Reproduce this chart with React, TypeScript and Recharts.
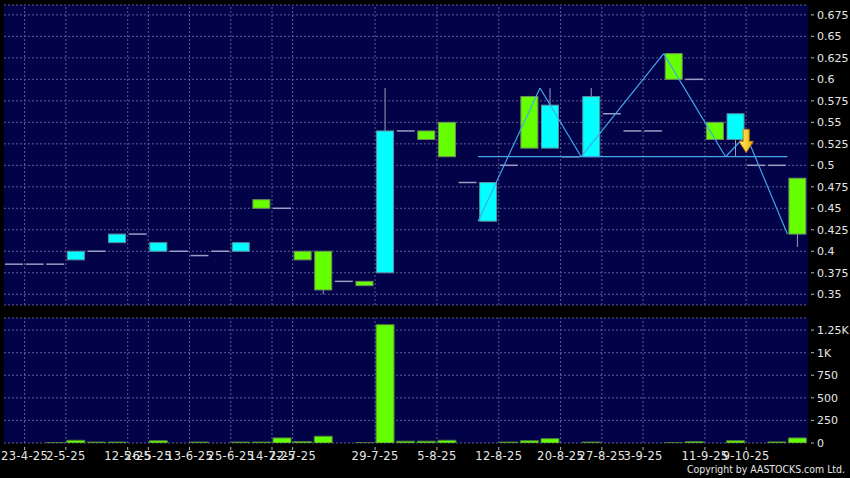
import React from "react";
import {
  Bar,
  CartesianGrid,
  ComposedChart,
  ReferenceDot,
  ReferenceLine,
  XAxis,
  YAxis,
} from "recharts";

// trading slots (one candle each)
const slots = [
  1, 2, 3, 4, 5, 6, 7, 8, 9, 10, 11, 12, 13, 14, 15, 16, 17, 18, 19, 20,
  21, 22, 23, 24, 25, 26, 27, 28, 29, 30, 31, 32, 33, 34, 35, 36, 37, 38, 39,
];

const opens = [
  0.385, 0.385, 0.385, 0.39, 0.4, 0.41, 0.42, 0.4, 0.4, 0.395, 0.4, 0.4, 0.46,
  0.45, 0.4, 0.4, 0.365, 0.365, 0.375, 0.54, 0.54, 0.55, 0.48, 0.435, 0.5,
  0.58, 0.52, 0.51, 0.51, 0.56, 0.54, 0.54, 0.63, 0.6, 0.55, 0.53, 0.5, 0.5,
  0.485,
];
const highs = [
  0.385, 0.385, 0.385, 0.4, 0.4, 0.42, 0.42, 0.41, 0.4, 0.395, 0.4, 0.41, 0.46,
  0.45, 0.4, 0.4, 0.365, 0.365, 0.59, 0.54, 0.54, 0.55, 0.48, 0.48, 0.5, 0.58,
  0.59, 0.51, 0.59, 0.56, 0.54, 0.54, 0.63, 0.6, 0.55, 0.56, 0.5, 0.5, 0.485,
];
const lows = [
  0.385, 0.385, 0.385, 0.39, 0.4, 0.41, 0.42, 0.4, 0.4, 0.395, 0.4, 0.4, 0.45,
  0.45, 0.39, 0.35, 0.365, 0.36, 0.375, 0.54, 0.53, 0.51, 0.48, 0.435, 0.5,
  0.52, 0.52, 0.51, 0.51, 0.56, 0.54, 0.54, 0.6, 0.6, 0.53, 0.51, 0.5, 0.5,
  0.405,
];
const closes = [
  0.385, 0.385, 0.385, 0.4, 0.4, 0.42, 0.42, 0.41, 0.4, 0.395, 0.4, 0.41, 0.45,
  0.45, 0.39, 0.355, 0.365, 0.36, 0.54, 0.54, 0.53, 0.51, 0.48, 0.48, 0.5,
  0.52, 0.57, 0.51, 0.58, 0.56, 0.54, 0.54, 0.6, 0.6, 0.53, 0.56, 0.5, 0.5,
  0.42,
];
const volumes = [
  0, 0, 4, 30, 10, 10, 0, 25, 0, 10, 0, 10, 10, 56, 15, 75, 0, 3, 1310, 20, 20,
  30, 0, 0, 10, 25, 48, 0, 10, 0, 0, 0, 3, 15, 0, 25, 0, 12, 56,
];

// date labels sit on the left edge of these slots
const tickSlots = [2, 4, 7, 8, 10, 12, 14, 15, 19, 22, 25, 28, 30, 32, 35, 37];
const tickLabels = [
  "23-4-25", "2-5-25", "12-5-25", "26-5-25", "13-6-25", "25-6-25", "14-7-25",
  "22-7-25", "29-7-25", "5-8-25", "12-8-25", "20-8-25", "27-8-25", "3-9-25",
  "11-9-25", "9-10-25",
];

const priceTicks = [
  0.35, 0.375, 0.4, 0.425, 0.45, 0.475, 0.5, 0.525, 0.55, 0.575, 0.6, 0.625,
  0.65, 0.675,
];
const volumeTicks = [0, 250, 500, 750, 1000, 1250];

// pattern overlay (zigzag + neckline), points on slot left edges
const zigSlots = [24, 27, 29, 33, 36, 37, 39];
const zigValues = [0.435, 0.59, 0.51, 0.63, 0.51, 0.535, 0.42];
const necklineSlots = [24, 39];
const necklineValue = 0.51;
const arrowSlot = 37;
const arrowValue = 0.515;

// layout
const W = 850;
const LEFT = 4;
const AXIS_W = 42;
const HALF = (W - LEFT - AXIS_W) / slots.length / 2;

const NAVY = "#020248";
const GRID = "#5c5c98";
const CYAN = "#00ffff";
const GREEN = "#66ff00";
const FLAT = "#9c9cc4";
const LINE = "#44a6ec";
const TEXT = "#e6e6e6";
const FONT = "'DejaVu Sans', sans-serif";

const rows = slots.map((slot, i) => ({
  slot,
  o: opens[i],
  h: highs[i],
  l: lows[i],
  c: closes[i],
  range: [lows[i], highs[i]],
  v: volumes[i],
}));

const Candle = (props: any) => {
  const { x = 0, y = 0, width = 0, height = 0, payload } = props;
  if (!payload) return <g />;
  const { o, h, l, c } = payload;
  const top = Math.min(y, y + height);
  const bot = Math.max(y, y + height);
  const span = h - l;
  const toY = (v: number) => (span > 0 ? top + ((h - v) / span) * (bot - top) : top);
  const cx = x + width / 2;
  if (o === c) {
    return (
      <g>
        {span > 0 && <line x1={cx} x2={cx} y1={top} y2={bot} stroke={FLAT} />}
        <line x1={x} x2={x + width} y1={toY(o)} y2={toY(o)} stroke={FLAT} strokeWidth={1.5} />
      </g>
    );
  }
  const up = c > o;
  const bTop = toY(Math.max(o, c));
  const bBot = toY(Math.min(o, c));
  return (
    <g>
      {span > 0 && <line x1={cx} x2={cx} y1={top} y2={bot} stroke={FLAT} />}
      <rect
        x={x + 0.5}
        y={bTop}
        width={width - 1}
        height={Math.max(1, bBot - bTop)}
        fill={up ? CYAN : GREEN}
        stroke={up ? "#5e8c9c" : "#6f8c5a"}
        strokeWidth={1}
      />
    </g>
  );
};

const Arrow = (props: any) => {
  const { cx = 0, cy = 0 } = props;
  const ax = cx - HALF;
  const d = `M${ax - 3},${cy - 23} L${ax + 3},${cy - 23} L${ax + 3},${cy - 11} L${ax + 7},${cy - 11} L${ax},${cy} L${ax - 7},${cy - 11} L${ax - 3},${cy - 11} Z`;
  return (
    <g>
      <defs>
        <linearGradient id="arrowFill" x1="0" x2="1" y1="0" y2="0">
          <stop offset="0%" stopColor="#fff07a" />
          <stop offset="100%" stopColor="#f0b000" />
        </linearGradient>
      </defs>
      <path d={d} fill="url(#arrowFill)" stroke="#c98a00" strokeWidth={1} />
    </g>
  );
};

const RightTick = (props: any) => {
  const { x, y, payload, fmt } = props;
  return (
    <g>
      <line x1={x + 3} x2={x + 6} y1={y} y2={y} stroke="#b8b8b8" />
      <text x={x + 9} y={y} dy="0.36em" fill={TEXT} fontSize={11} fontFamily={FONT}>
        {fmt(payload.value)}
      </text>
    </g>
  );
};

const DateTick = (props: any) => {
  const { x, y, payload } = props;
  const i = tickSlots.indexOf(payload.value);
  const tx = x - HALF;
  return (
    <g>
      <line x1={tx} x2={tx} y1={y + 4} y2={y + 7} stroke="#b8b8b8" />
      <text
        x={tx}
        y={y + 17}
        textAnchor="middle"
        fill={TEXT}
        fontSize={11.5}
        letterSpacing={0.3}
        fontFamily={FONT}
      >
        {tickLabels[i]}
      </text>
    </g>
  );
};

const fmtPrice = (v: number) => String(v);
const fmtVol = (v: number) => (v >= 1000 ? `${v / 1000}K` : String(v));

const vGrid = () =>
  tickSlots.map((s) => (
    <ReferenceLine key={`g${s}`} x={s} position="start" stroke={GRID} strokeDasharray="2 2" />
  ));

export default function App() {
  const zigSegments = zigSlots.slice(1).map((s, i) => (
    <ReferenceLine
      key={`z${i}`}
      position="start"
      segment={[
        { x: zigSlots[i], y: zigValues[i] },
        { x: s, y: zigValues[i + 1] },
      ]}
      stroke={LINE}
      strokeWidth={1.2}
    />
  ));

  return (
    <div
      style={{
        position: "fixed",
        left: 0,
        top: 0,
        width: W,
        height: 478,
        background: "#000",
        fontFamily: FONT,
        overflow: "hidden",
      }}
    >
      <div style={{ position: "absolute", left: 0, top: 0 }}>
        <ComposedChart
          width={W}
          height={310}
          data={rows}
          margin={{ top: 5, right: 0, left: LEFT, bottom: 5 }}
        >
          <CartesianGrid vertical={false} fill={NAVY} fillOpacity={1} stroke={GRID} strokeDasharray="2 2" />
          <XAxis dataKey="slot" type="category" hide />
          <YAxis
            orientation="right"
            width={AXIS_W}
            domain={[0.3375, 0.6865]}
            allowDataOverflow
            ticks={priceTicks}
            interval={0}
            axisLine={false}
            tickLine={false}
            tickSize={0}
            tickMargin={0}
            tick={<RightTick fmt={fmtPrice} />}
          />
          {vGrid()}
          <Bar dataKey="range" barSize={18} shape={Candle} isAnimationActive={false} />
          {zigSegments}
          <ReferenceLine
            position="start"
            segment={[
              { x: necklineSlots[0], y: necklineValue },
              { x: necklineSlots[1], y: necklineValue },
            ]}
            stroke={LINE}
            strokeWidth={1.2}
          />
          <ReferenceDot x={arrowSlot} y={arrowValue} shape={Arrow} />
        </ComposedChart>
      </div>
      <div style={{ position: "absolute", left: 0, top: 310 }}>
        <ComposedChart
          width={W}
          height={168}
          data={rows}
          margin={{ top: 8, right: 0, left: LEFT, bottom: 0 }}
        >
          <CartesianGrid vertical={false} fill={NAVY} fillOpacity={1} stroke={GRID} strokeDasharray="2 2" />
          <XAxis
            dataKey="slot"
            type="category"
            height={35}
            ticks={tickSlots}
            interval={0}
            axisLine={false}
            tickLine={false}
            tickSize={0}
            tickMargin={0}
            tick={<DateTick />}
          />
          <YAxis
            orientation="right"
            width={AXIS_W}
            domain={[0, 1384]}
            allowDataOverflow
            ticks={volumeTicks}
            interval={0}
            axisLine={false}
            tickLine={false}
            tickSize={0}
            tickMargin={0}
            tick={<RightTick fmt={fmtVol} />}
          />
          {vGrid()}
          <Bar dataKey="v" barSize={18} fill={GREEN} stroke="#4f7f3a" isAnimationActive={false} />
        </ComposedChart>
      </div>
      <svg style={{ position: "absolute", left: 0, top: 458 }} width={W} height={20}>
        <text
          x={845}
          y={15}
          textAnchor="end"
          fill={TEXT}
          fontSize={10.5}
          fontFamily={FONT}
          textLength={158}
          lengthAdjust="spacingAndGlyphs"
        >
          Copyright by AASTOCKS.com Ltd.
        </text>
      </svg>
    </div>
  );
}
